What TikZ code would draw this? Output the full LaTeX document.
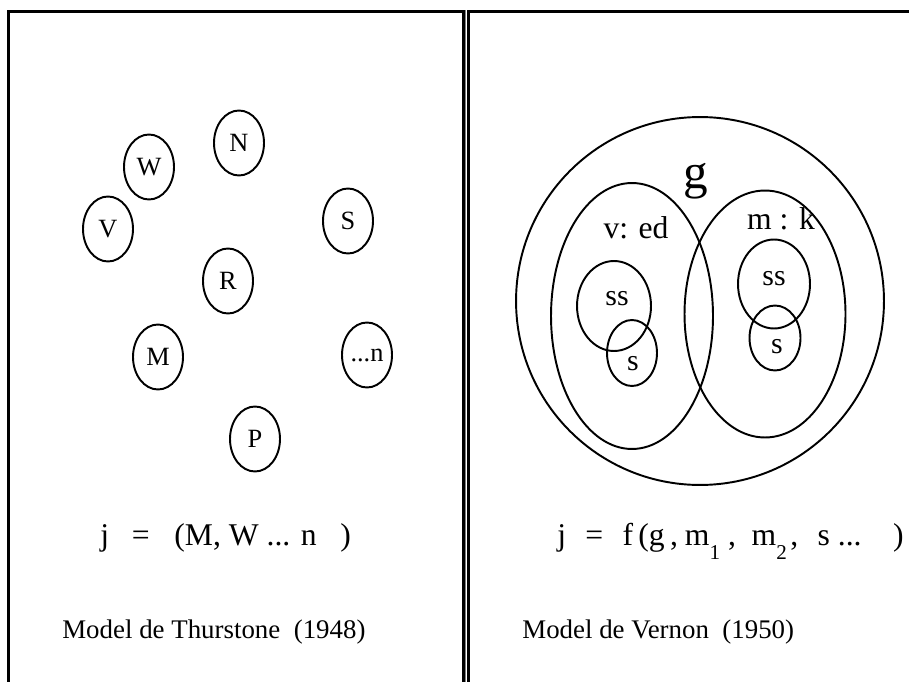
\documentclass[tikz,border=0pt]{standalone}
\usepackage{fontspec}
\setmainfont{Liberation Serif}
\usetikzlibrary{shapes.geometric}

\newcommand{\lowsub}[1]{\raisebox{-0.45em}{\fontsize{12}{14}\selectfont #1}}

\begin{document}
\begin{tikzpicture}[
  x=0.02cm, y=-0.02cm,
  every node/.style={font=\fontsize{15}{17}\selectfont},
  factor/.style={ellipse, draw, line width=1.1pt, minimum width=1cm,
                 minimum height=1.3cm, inner sep=0pt},
  blob/.style={ellipse, draw, line width=1.1pt, inner sep=0pt},
  panel/.style={line width=1.2pt},
  rim/.style={line width=0.5pt, gray},
  eqn/.style={anchor=base west, inner sep=0pt, font=\fontsize{18}{21}\selectfont},
  caption/.style={anchor=base west, inner sep=0pt, font=\fontsize{15.3}{18}\selectfont},
  lab/.style={anchor=base, inner sep=0pt, font=\fontsize{18}{20}\selectfont},
  small lab/.style={lab, font=\fontsize{17}{19}\selectfont},
]
\useasboundingbox (0,0) rectangle (909,682);
\clip (0,0) rectangle (909,682);

% frames
\draw[rim] (7,700) -- (7,10) -- (465,10) -- (465,700);
\draw[panel] (8.5,700) -- (8.5,11.5) -- (463.5,11.5) -- (463.5,700);
\draw[rim] (467,700) -- (467,10) -- (930,10);
\draw[panel] (468.5,700) -- (468.5,11.5) -- (930,11.5);

% Thurstone: independent factors
\node[factor] (n) at (239,143) {N};
\node[factor] (w) at (149,167) {W};
\node[factor] (v) at (108,229) {V};
\node[factor] (s) at (348,221) {S};
\node[factor] (r) at (228,281) {R};
\node[factor] (m) at (158,357) {M};
\node[factor] (etc) at (367,355) {...n};
\node[factor] (p) at (255,439) {P};

\node[eqn] (thEq) at (100,545)
  {j\hspace{13pt}=\hspace{14pt}(M, W ... n\hspace{13.5pt})};
\node[caption] (thCap) at (62,638) {Model de Thurstone \ (1948)};

% Vernon: hierarchy
\node[blob, minimum size=7.36cm] (g) at (700,301) {};
\node[blob, minimum width=3.24cm, minimum height=5.32cm] (vEd) at (632,316) {};
\node[blob, minimum width=3.22cm, minimum height=4.94cm] (mK) at (765,314) {};
\node[blob, minimum width=1.48cm, minimum height=1.8cm] (ssL) at (614,306) {};
\node[blob, minimum width=1cm, minimum height=1.32cm] (sL) at (632,353) {};
\node[blob, minimum width=1.44cm, minimum height=1.78cm] (ssR) at (774,284) {};
\node[blob, minimum width=1.02cm, minimum height=1.3cm] (sR) at (775,338) {};

\node[lab, font=\fontsize{28}{30}\selectfont] (gLab) at (696,189) {g};
\node[lab] (vEdLab) at (636,238) {v: ed};
\node[lab] (mKLab) at (781,230) {m : k};
\node[small lab] (ssLLab) at (617,305) {ss};
\node[small lab] (sLLab) at (633,370) {s};
\node[small lab] (ssRLab) at (774,285) {ss};
\node[small lab] (sRLab) at (777,353) {s};

\node[eqn] (veEq) at (557,545)
  {j\hspace{11pt}=\hspace{11pt}f\,(g\hspace{3pt},\hspace{4pt}m\lowsub{1}\ ,
   \ m\lowsub{2}\hspace{2pt},\hspace{11pt}s ...\hspace{18pt})};
\node[caption] (veCap) at (522,638) {Model de Vernon \ (1950)};
\end{tikzpicture}
\end{document}
